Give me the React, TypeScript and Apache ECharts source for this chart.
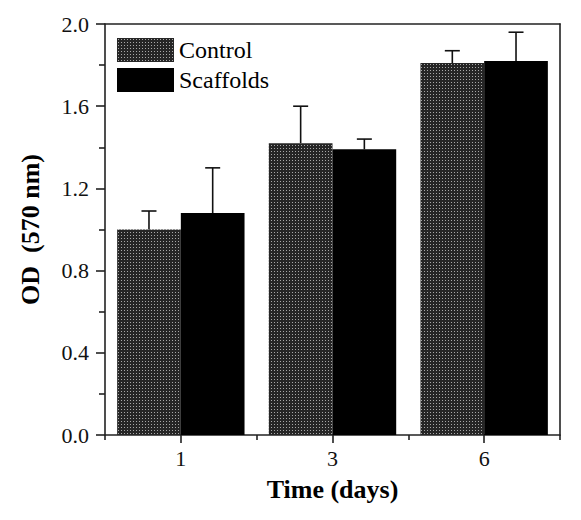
import React, { useEffect, useRef } from "react";
import * as echarts from "echarts";

const categories = ["1", "3", "6"];
const controlMeans = [1.0, 1.42, 1.81];
const controlErrors = [0.09, 0.18, 0.06];
const scaffoldMeans = [1.08, 1.39, 1.82];
const scaffoldErrors = [0.22, 0.05, 0.14];
const yTicks = { min: 0, max: 2.0, interval: 0.4 };

const FONT = "Liberation Serif";
const BAR_CAT_GAP = 0.16;

function makePattern(): HTMLCanvasElement {
  const c = document.createElement("canvas");
  c.width = 3;
  c.height = 3;
  const ctx = c.getContext("2d")!;
  ctx.fillStyle = "#262626";
  ctx.fillRect(0, 0, 3, 3);
  ctx.fillStyle = "#a8a8a8";
  ctx.fillRect(1, 1, 1, 1);
  return c;
}

export default function App() {
  const ref = useRef<HTMLDivElement>(null);

  useEffect(() => {
    if (!ref.current) return;
    const chart = echarts.init(ref.current, undefined, { renderer: "svg" });
    const pattern = { image: makePattern(), repeat: "repeat" };

    const errRender = (offsetSign: number) => (params: any, api: any) => {
      const idx = api.value(0);
      const mean = api.value(1);
      const err = api.value(2);
      const catW = api.size([1, 0])[0];
      const barW = (catW * (1 - BAR_CAT_GAP)) / 2;
      const base = api.coord([idx, mean]);
      const top = api.coord([idx, mean + err]);
      const x = base[0] + (offsetSign * barW) / 2;
      const style = { stroke: "#111", lineWidth: 1.6 };
      return {
        type: "group",
        children: [
          { type: "line", shape: { x1: x, y1: base[1], x2: x, y2: top[1] }, style },
          { type: "line", shape: { x1: x - 7.5, y1: top[1], x2: x + 7.5, y2: top[1] }, style },
        ],
      };
    };

    const axisLine = { show: true, lineStyle: { color: "#222", width: 1.6 } };

    chart.setOption({
      animation: false,
      textStyle: { fontFamily: FONT },
      grid: { left: 105, right: 21, top: 24, bottom: 85, containLabel: false },
      legend: {
        data: ["Control", "Scaffolds"],
        orient: "vertical",
        left: 112,
        top: 33,
        itemWidth: 57,
        itemHeight: 24,
        itemGap: 6,
        icon: "rect",
        textStyle: { fontFamily: FONT, fontSize: 24, color: "#000" },
      },
      xAxis: [
        {
          type: "category",
          data: categories,
          position: "bottom",
          axisLine,
          axisTick: { show: true, alignWithLabel: false, length: 5, lineStyle: { color: "#222", width: 1.6 } },
          axisLabel: { fontFamily: FONT, fontSize: 22, color: "#111", margin: 12 },
          name: "Time (days)",
          nameLocation: "middle",
          nameGap: 41,
          nameTextStyle: { fontFamily: FONT, fontSize: 26, fontWeight: "bold", color: "#000" },
          splitLine: { show: false },
        },
        {
          type: "category",
          data: categories,
          position: "bottom",
          axisLine: { show: false },
          axisTick: { show: true, alignWithLabel: true, length: 8, lineStyle: { color: "#222", width: 1.6 } },
          axisLabel: { show: false },
          splitLine: { show: false },
        },
        {
          type: "category",
          data: categories,
          position: "top",
          axisLine,
          axisTick: { show: false },
          axisLabel: { show: false },
          splitLine: { show: false },
        },
      ],
      yAxis: [
        {
          type: "value",
          min: yTicks.min,
          max: yTicks.max,
          interval: yTicks.interval,
          position: "left",
          axisLine,
          axisTick: { show: true, inside: false, length: 9, lineStyle: { color: "#222", width: 1.6 } },
          minorTick: { show: true, splitNumber: 2, length: 6, lineStyle: { color: "#222", width: 1.6 } },
          axisLabel: {
            fontFamily: FONT,
            fontSize: 22,
            color: "#111",
            margin: 16,
            formatter: (v: number) => v.toFixed(1),
          },
          splitLine: { show: false },
          name: "OD  (570 nm)",
          nameLocation: "middle",
          nameGap: 62,
          nameTextStyle: { fontFamily: FONT, fontSize: 26, fontWeight: "bold", color: "#000" },
        },
        {
          type: "value",
          min: yTicks.min,
          max: yTicks.max,
          interval: yTicks.interval,
          position: "right",
          axisLine,
          axisTick: { show: false },
          axisLabel: { show: false },
          splitLine: { show: false },
        },
      ],
      series: [
        {
          name: "Control",
          type: "bar",
          xAxisIndex: 0,
          yAxisIndex: 0,
          data: controlMeans,
          barGap: "0%",
          barCategoryGap: `${BAR_CAT_GAP * 100}%`,
          itemStyle: { color: pattern },
        },
        {
          name: "Scaffolds",
          type: "bar",
          xAxisIndex: 0,
          yAxisIndex: 0,
          data: scaffoldMeans,
          barGap: "0%",
          barCategoryGap: `${BAR_CAT_GAP * 100}%`,
          itemStyle: { color: "#000" },
        },
        {
          name: "Control error",
          type: "custom",
          xAxisIndex: 0,
          yAxisIndex: 0,
          z: 5,
          renderItem: errRender(-1),
          data: controlMeans.map((m, i) => [i, m, controlErrors[i]]),
          encode: { x: 0, y: 1 },
        },
        {
          name: "Scaffolds error",
          type: "custom",
          xAxisIndex: 0,
          yAxisIndex: 0,
          z: 5,
          renderItem: errRender(1),
          data: scaffoldMeans.map((m, i) => [i, m, scaffoldErrors[i]]),
          encode: { x: 0, y: 1 },
        },
      ],
    });
    return () => chart.dispose();
  }, []);

  return (
    <div
      ref={ref}
      style={{ position: "fixed", left: 0, top: 0, width: 581, height: 520, background: "#fff" }}
    />
  );
}
